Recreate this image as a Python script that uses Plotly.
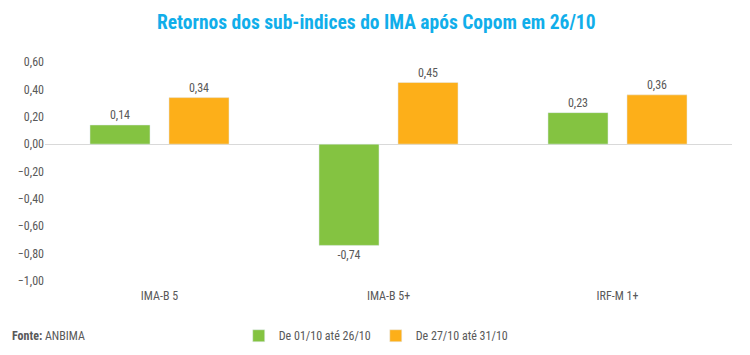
import plotly.graph_objects as go

categories = ["IMA-B 5", "IMA-B 5+", "IRF-M 1+"]
series_1_name = "De 01/10 até 26/10"
series_1_values = [0.14, -0.74, 0.23]
series_2_name = "De 27/10 até 31/10"
series_2_values = [0.34, 0.45, 0.36]
y_ticks = [0.6, 0.4, 0.2, 0.0, -0.2, -0.4, -0.6, -0.8, -1.0]

FONT = "Liberation Sans Narrow, Roboto Condensed, Noto Sans, sans-serif"
GRAY = "#595959"

fig = go.Figure()
fig.add_trace(go.Bar(
    x=categories, y=series_1_values, name=series_1_name,
    marker_color="#84C341", texttemplate="%{y:.2f}", textposition="outside",
    textfont=dict(color=GRAY, size=12), cliponaxis=False,
))
fig.add_trace(go.Bar(
    x=categories, y=series_2_values, name=series_2_name,
    marker_color="#FDAF19", texttemplate="%{y:.2f}", textposition="outside",
    textfont=dict(color=GRAY, size=12), cliponaxis=False,
))

fig.update_layout(
    width=750, height=355,
    margin=dict(l=37, r=26, t=54, b=82, autoexpand=False),
    paper_bgcolor="white", plot_bgcolor="white",
    separators=",.",
    barmode="group", bargap=0.31, bargroupgap=0.24,
    font=dict(family=FONT, color=GRAY, size=12),
    title=dict(text="<b>Retornos dos sub-indices do IMA após Copom em 26/10</b>",
               x=0.491, xanchor="center", y=0.96, yanchor="middle",
               font=dict(family=FONT, size=19.5, color="#11AEEA")),
    xaxis=dict(showline=False, showgrid=False, ticks="", ticklabelstandoff=6,
               tickfont=dict(size=12, color=GRAY)),
    yaxis=dict(range=[-1.0, 0.6], tickvals=y_ticks, tickformat=".2f",
               showgrid=False, showline=False, ticks="",
               zeroline=True, zerolinecolor="#D9D9D9", zerolinewidth=1,
               tickfont=dict(size=12, color=GRAY)),
    legend=dict(orientation="h", x=0.282, xanchor="left", y=-0.25, yanchor="middle",
                font=dict(size=12, color=GRAY), itemwidth=30, traceorder="normal"),
    showlegend=True,
)
fig.add_annotation(text="<b>Fonte:</b> ANBIMA", xref="paper", yref="paper",
                   x=-0.051, y=-0.25, xanchor="left", yanchor="middle",
                   showarrow=False, font=dict(size=12, color=GRAY, family=FONT))

fig.write_html("out.html")
